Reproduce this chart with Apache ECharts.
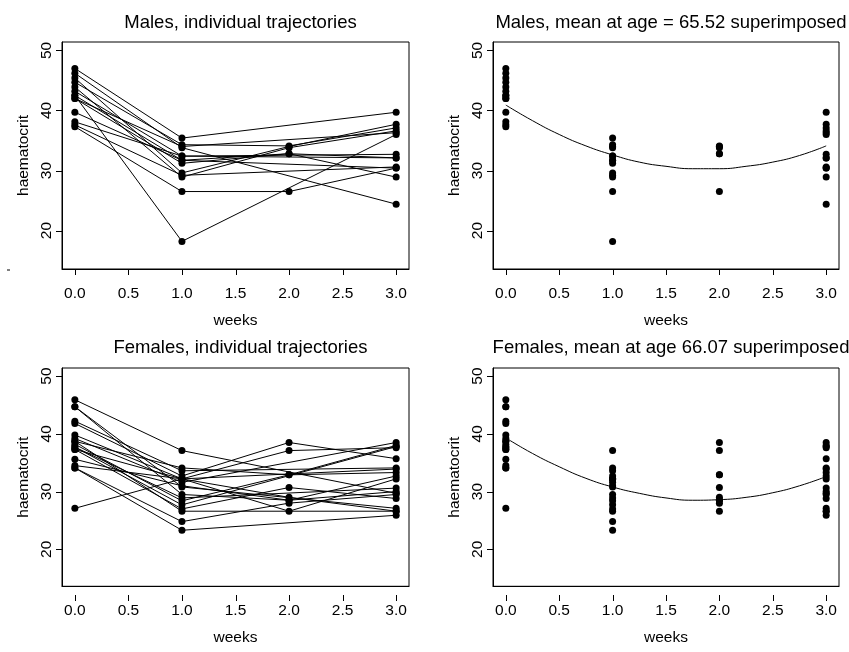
<!DOCTYPE html>
<html lang="en">

<head>
  <script src="https://cdn.jsdelivr.net/npm/echarts@6.0.0/dist/echarts.min.js"></script>
</head>

<body style="margin:0;background:#fff;">
  <div id="haemChart" style="width: 849px;height:652px;"></div>

  <script type="text/javascript">

    // observation times (weeks)
    var weeks = [0, 1, 2, 3];
    var xTicks = [0, 0.5, 1, 1.5, 2, 2.5, 3];
    var yTicks = [20, 30, 40, 50];

    // haematocrit per subject at weeks 0,1,2,3 (null = not measured)
    var maleTraj = [
        [47.0, 35.4, null, 39.7],
        [46.2, 33.8, null, 24.4],
        [45.4, 29.6, 34.0, 37.7],
        [44.7, 34.3, 34.1, 37.1],
        [43.9, 28.9, 33.8, 36.6],
        [43.2, 32.4, null, 32.7],
        [42.5, 18.2, null, 36.0],
        [42.5, 31.7, 32.8, 32.1],
        [42.0, 34.0, null, 36.3],
        [42.0, 31.2, 32.8, 28.9],
        [39.7, 31.7, null, 30.4],
        [38.1, 32.4, null, 32.1],
        [37.6, 29.2, null, 30.6],
        [37.3, 26.5, 26.5, 30.4]
    ];

    var femaleTraj = [
        [45.9, 37.1, null, 29.7],
        [44.7, 29.5, 28.5, 30.0],
        [44.7, 30.8, null, 27.1],
        [42.2, 33.6, null, 34.1],
        [41.8, 32.7, 38.5, 35.7],
        [39.8, 32.2, 37.1, 37.6],
        [39.2, 31.6, null, 38.5],
        [38.7, 34.1, 32.9, 33.3],
        [38.2, 28.4, 32.9, 38.0],
        [37.7, 27.7, null, 37.8],
        [37.3, 27.0, 30.7, 28.8],
        [37.3, 32.2, 29.0, 26.6],
        [35.6, 31.0, 28.5, 32.7],
        [34.5, 32.2, null, 33.9],
        [34.1, 24.8, 28.0, 29.5],
        [34.1, 23.3, null, 25.9],
        [27.1, 32.2, 26.6, 32.2],
        [38.7, 26.6, null, 26.6],
        [37.7, 28.9, null, 30.6]
    ];

    // fitted mean curves
    var meanWeeks = [0, 0.25, 0.5, 0.75, 1, 1.25, 1.5, 1.75, 2, 2.25, 2.5, 2.75, 3];
    var maleMean = [40.9, 38.3, 36.0, 34.1, 32.6, 31.4, 30.7, 30.3, 30.3, 30.7, 31.4, 32.5, 34.1];
    var femaleMean = [39.3, 36.6, 34.3, 32.3, 30.8, 29.7, 28.9, 28.5, 28.6, 29.0, 29.8, 31.0, 32.6];

    var titles = [
        'Males, individual trajectories',
        'Males, mean at age = 65.52 superimposed',
        'Females, individual trajectories',
        'Females, mean at age 66.07 superimposed'
    ];

    var font = 'Liberation Sans, Arial, Helvetica, sans-serif';

    var grids = [
        { left: 62, top: 42, width: 347, height: 227 },
        { left: 493, top: 42, width: 346, height: 227 },
        { left: 62, top: 368, width: 347, height: 227 },
        { left: 493, top: 368, width: 346, height: 227 }
    ];

    function toPoints(row) {
        var pts = [];
        for (var i = 0; i < weeks.length; i++) {
            if (row[i] !== null) pts.push([weeks[i], row[i]]);
        }
        return pts;
    }

    function allPoints(rows) {
        var pts = [];
        rows.forEach(function (r) { pts = pts.concat(toPoints(r)); });
        return pts;
    }

    function makeX(idx) {
        return {
            gridIndex: idx, type: 'value', min: -0.12, max: 3.12,
            name: 'weeks', nameLocation: 'middle', nameGap: 38, nameMoveOverlap: false,
            nameTextStyle: { fontFamily: font, fontSize: 15.5, color: '#000' },
            splitLine: { show: false },
            axisLine: { show: true, onZero: false, lineStyle: { color: '#000', width: 1 } },
            axisTick: { show: false },
            axisLabel: {
                customValues: xTicks, margin: 11, color: '#000',
                fontFamily: font, fontSize: 15.5,
                formatter: function (v) { return v.toFixed(1); }
            }
        };
    }

    function makeY(idx) {
        return {
            gridIndex: idx, type: 'value', min: 13.6, max: 51.4,
            name: 'haematocrit', nameLocation: 'middle', nameGap: 25, nameMoveOverlap: false,
            nameTextStyle: { fontFamily: font, fontSize: 15.5, color: '#000' },
            splitLine: { show: false },
            axisLine: { show: true, onZero: false, lineStyle: { color: '#000', width: 1 } },
            axisTick: { show: false },
            axisLabel: {
                customValues: yTicks, margin: 2, rotate: 90, color: '#000',
                fontFamily: font, fontSize: 15.5
            }
        };
    }

    // tick marks placed through the axes' own pixel conversion
    function tickGraphics(chart) {
        var els = [];
        grids.forEach(function (g, i) {
            var bottom = g.top + g.height;
            xTicks.forEach(function (v) {
                var px = Math.round(chart.convertToPixel({ xAxisIndex: i }, v)) + 0.5;
                els.push({ type: 'line', shape: { x1: px, y1: bottom, x2: px, y2: bottom + 6 },
                    style: { stroke: '#000', lineWidth: 1 }, silent: true });
            });
            yTicks.forEach(function (v) {
                var py = Math.round(chart.convertToPixel({ yAxisIndex: i }, v)) + 0.5;
                els.push({ type: 'line', shape: { x1: g.left - 6, y1: py, x2: g.left, y2: py },
                    style: { stroke: '#000', lineWidth: 1 }, silent: true });
            });
        });
        // stray dash left of the first panel
        els.push({ type: 'line', shape: { x1: 7, y1: 270, x2: 10, y2: 270 },
            style: { stroke: '#000', lineWidth: 1 }, silent: true });
        return els;
    }

    function createChart() {
        var chart = echarts.init(document.getElementById('haemChart'));

        var gridOpts = grids.map(function (g) {
            return { left: g.left, top: g.top, width: g.width, height: g.height,
                show: true, borderColor: '#000', borderWidth: 1 };
        });

        var titleTops = [2, 2, 327, 327];
        var title = titles.map(function (t, i) {
            return {
                text: t, left: grids[i].left + grids[i].width / 2, top: titleTops[i],
                textAlign: 'center',
                textStyle: { fontFamily: font, fontSize: 18.5, fontWeight: 'normal', color: '#000' }
            };
        });

        var series = [];
        [[maleTraj, 0], [femaleTraj, 2]].forEach(function (pair) {
            pair[0].forEach(function (row) {
                series.push({
                    type: 'line', xAxisIndex: pair[1], yAxisIndex: pair[1],
                    data: toPoints(row), symbol: 'circle', symbolSize: 7,
                    itemStyle: { color: '#000', opacity: 1 },
                    lineStyle: { color: '#000', width: 1 },
                    silent: true, animation: false
                });
            });
        });

        [[maleTraj, maleMean, 1], [femaleTraj, femaleMean, 3]].forEach(function (set) {
            series.push({
                type: 'scatter', xAxisIndex: set[2], yAxisIndex: set[2],
                data: allPoints(set[0]), symbol: 'circle', symbolSize: 7,
                itemStyle: { color: '#000', opacity: 1 }, silent: true, animation: false
            });
            series.push({
                type: 'line', xAxisIndex: set[2], yAxisIndex: set[2],
                data: meanWeeks.map(function (w, i) { return [w, set[1][i]]; }),
                showSymbol: false, smooth: true,
                lineStyle: { color: '#000', width: 1 },
                silent: true, animation: false
            });
        });

        var option = {
            backgroundColor: '#fff',
            animation: false,
            title: title,
            grid: gridOpts,
            xAxis: [makeX(0), makeX(1), makeX(2), makeX(3)],
            yAxis: [makeY(0), makeY(1), makeY(2), makeY(3)],
            series: series
        };

        chart.setOption(option);
        chart.setOption({ graphic: tickGraphics(chart) });
    }
    createChart();
  </script>
</body>

</html>
